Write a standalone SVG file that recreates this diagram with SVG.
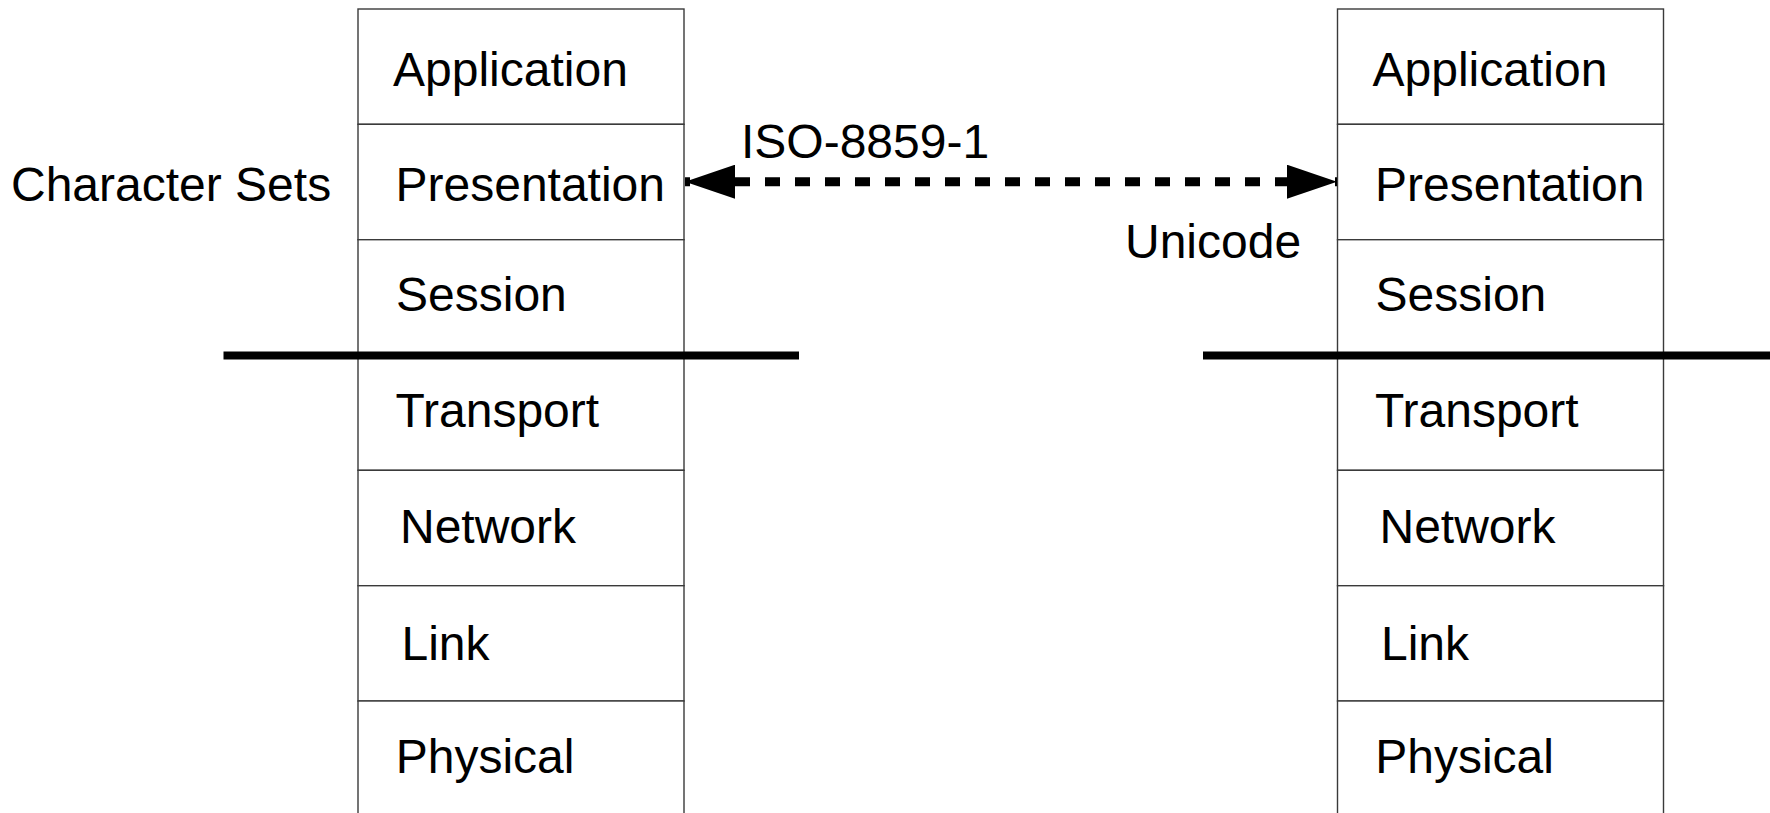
<svg xmlns="http://www.w3.org/2000/svg" width="1770" height="813" viewBox="0 0 1770 813">
  <style>
    .layer { fill: #ffffff; stroke: #3a3a3a; stroke-width: 1.4; }
    .lbl { font-family: "Liberation Sans", Arial, sans-serif; font-size: 48px; fill: #000000; }
    .sep { stroke: #000000; stroke-width: 8; fill: none; }
    .link { stroke: #000000; stroke-width: 9; fill: none; stroke-dasharray: 15 15; stroke-dashoffset: 10; }
  </style>
  <defs>
    <marker id="arrow" markerUnits="userSpaceOnUse" viewBox="0 0 50 34" markerWidth="50" markerHeight="34" refX="50" refY="17" orient="auto-start-reverse">
      <path d="M0,0 L50,17 L0,34 z" fill="#000000"/>
    </marker>
  </defs>
  <rect width="1770" height="813" fill="#ffffff"/>

  <g id="left-stack">
    <g id="left-application"><rect class="layer" x="358" y="9" width="326" height="115.3"/><text class="lbl" x="393" y="86">Application</text></g>
    <g id="left-presentation"><rect class="layer" x="358" y="124.3" width="326" height="115.4"/><text class="lbl" x="395.5" y="201">Presentation</text></g>
    <g id="left-session"><rect class="layer" x="358" y="239.7" width="326" height="115.3"/><text class="lbl" x="396" y="310.5">Session</text></g>
    <g id="left-transport"><rect class="layer" x="358" y="355" width="326" height="115.3"/><text class="lbl" x="395.5" y="427.3">Transport</text></g>
    <g id="left-network"><rect class="layer" x="358" y="470.3" width="326" height="115.4"/><text class="lbl" x="400" y="542.7">Network</text></g>
    <g id="left-link"><rect class="layer" x="358" y="585.7" width="326" height="115.3"/><text class="lbl" x="401.5" y="660">Link</text></g>
    <g id="left-physical"><rect class="layer" x="358" y="701" width="326" height="120"/><text class="lbl" x="395.7" y="773.3">Physical</text></g>
  </g>

  <g id="right-stack">
    <g id="right-application"><rect class="layer" x="1337.5" y="9" width="326" height="115.3"/><text class="lbl" x="1372.5" y="86">Application</text></g>
    <g id="right-presentation"><rect class="layer" x="1337.5" y="124.3" width="326" height="115.4"/><text class="lbl" x="1375" y="201">Presentation</text></g>
    <g id="right-session"><rect class="layer" x="1337.5" y="239.7" width="326" height="115.3"/><text class="lbl" x="1375.5" y="310.5">Session</text></g>
    <g id="right-transport"><rect class="layer" x="1337.5" y="355" width="326" height="115.3"/><text class="lbl" x="1375" y="427.3">Transport</text></g>
    <g id="right-network"><rect class="layer" x="1337.5" y="470.3" width="326" height="115.4"/><text class="lbl" x="1379.5" y="542.7">Network</text></g>
    <g id="right-link"><rect class="layer" x="1337.5" y="585.7" width="326" height="115.3"/><text class="lbl" x="1381" y="660">Link</text></g>
    <g id="right-physical"><rect class="layer" x="1337.5" y="701" width="326" height="120"/><text class="lbl" x="1375.2" y="773.3">Physical</text></g>
  </g>

  <g id="separators">
    <line class="sep" x1="223.5" y1="355.5" x2="799" y2="355.5"/>
    <line class="sep" x1="1203" y1="355.5" x2="1770" y2="355.5"/>
  </g>

  <g id="labels">
    <text class="lbl" x="11" y="201">Character Sets</text>
    <text class="lbl" x="741" y="158.3">ISO-8859-1</text>
    <text class="lbl" x="1125" y="258.3">Unicode</text>
  </g>

  <g id="connectors">
    <line class="link" x1="685" y1="181.7" x2="1337" y2="181.7" marker-start="url(#arrow)" marker-end="url(#arrow)"/>
  </g>
</svg>
